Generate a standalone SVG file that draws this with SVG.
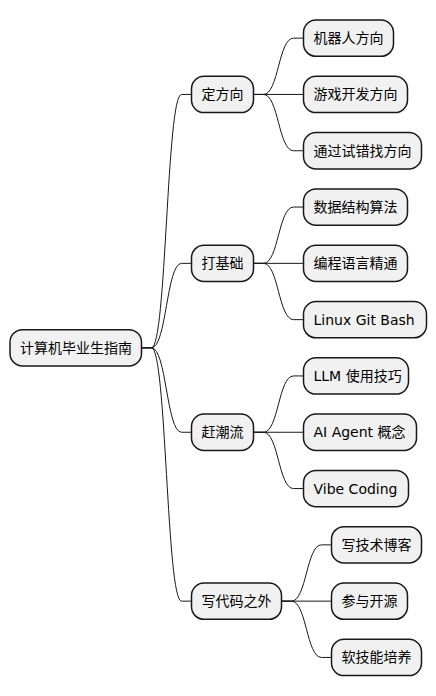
<svg xmlns="http://www.w3.org/2000/svg" width="436" height="696" viewBox="0 0 436 696">
<style>
.n rect{fill:#F1F1F1;stroke:#181818;stroke-width:1.5}
.n text{font-family:"DejaVu Sans","Noto Sans CJK SC",sans-serif;font-size:14px;fill:#000}
.c path{fill:none;stroke:#181818;stroke-width:1}
</style>
<rect width="436" height="696" fill="#FFFFFF"/>
<g class="c" id="connectors">
<path d="M141.5 347.8H151.5C166.5 347.8 166.5 94.45 181.5 94.45H191.5"/>
<path d="M141.5 347.8H151.5C166.5 347.8 166.5 263.35 181.5 263.35H191.5"/>
<path d="M141.5 347.8H151.5C166.5 347.8 166.5 432.25 181.5 432.25H191.5"/>
<path d="M141.5 347.8H151.5C166.5 347.8 166.5 601.15 181.5 601.15H191.5"/>
<path d="M253.5 94.45H263.5C278.5 94.45 278.5 38.15 293.5 38.15H303.5"/>
<path d="M253.5 94.45H303.5"/>
<path d="M253.5 94.45H263.5C278.5 94.45 278.5 150.75 293.5 150.75H303.5"/>
<path d="M253.5 263.35H263.5C278.5 263.35 278.5 207.05 293.5 207.05H303.5"/>
<path d="M253.5 263.35H303.5"/>
<path d="M253.5 263.35H263.5C278.5 263.35 278.5 319.65 293.5 319.65H303.5"/>
<path d="M253.5 432.25H263.5C278.5 432.25 278.5 375.95 293.5 375.95H303.5"/>
<path d="M253.5 432.25H303.5"/>
<path d="M253.5 432.25H263.5C278.5 432.25 278.5 488.55 293.5 488.55H303.5"/>
<path d="M281.5 601.15H291.5C306.5 601.15 306.5 544.85 321.5 544.85H331.5"/>
<path d="M281.5 601.15H331.5"/>
<path d="M281.5 601.15H291.5C306.5 601.15 306.5 657.45 321.5 657.45H331.5"/>
</g>
<g class="n" id="root"><rect x="10" y="329.65" width="131.5" height="36.3" rx="12.5"/><text x="20" y="352.8">计算机毕业生指南</text></g>
<g class="n" id="n1"><rect x="191.5" y="76.3" width="62" height="36.3" rx="12.5"/><text x="201.5" y="99.45">定方向</text></g>
<g class="n" id="n2"><rect x="191.5" y="245.2" width="62" height="36.3" rx="12.5"/><text x="201.5" y="268.35">打基础</text></g>
<g class="n" id="n3"><rect x="191.5" y="414.1" width="62" height="36.3" rx="12.5"/><text x="201.5" y="437.25">赶潮流</text></g>
<g class="n" id="n4"><rect x="191.5" y="583" width="90" height="36.3" rx="12.5"/><text x="201.5" y="606.15">写代码之外</text></g>
<g class="n" id="n1a"><rect x="303.5" y="20" width="90" height="36.3" rx="12.5"/><text x="313.5" y="43.15">机器人方向</text></g>
<g class="n" id="n1b"><rect x="303.5" y="76.3" width="104" height="36.3" rx="12.5"/><text x="313.5" y="99.45">游戏开发方向</text></g>
<g class="n" id="n1c"><rect x="303.5" y="132.6" width="118" height="36.3" rx="12.5"/><text x="313.5" y="155.75">通过试错找方向</text></g>
<g class="n" id="n2a"><rect x="303.5" y="188.9" width="104" height="36.3" rx="12.5"/><text x="313.5" y="212.05">数据结构算法</text></g>
<g class="n" id="n2b"><rect x="303.5" y="245.2" width="104" height="36.3" rx="12.5"/><text x="313.5" y="268.35">编程语言精通</text></g>
<g class="n" id="n2c"><rect x="303.5" y="301.5" width="123" height="36.3" rx="12.5"/><text x="313.5" y="324.65">Linux Git Bash</text></g>
<g class="n" id="n3a"><rect x="303.5" y="357.8" width="105" height="36.3" rx="12.5"/><text x="313.5" y="380.95">LLM 使用技巧</text></g>
<g class="n" id="n3b"><rect x="303.5" y="414.1" width="113" height="36.3" rx="12.5"/><text x="313.5" y="437.25">AI Agent 概念</text></g>
<g class="n" id="n3c"><rect x="303.5" y="470.4" width="105" height="36.3" rx="12.5"/><text x="313.5" y="493.55">Vibe Coding</text></g>
<g class="n" id="n4a"><rect x="331.5" y="526.7" width="90" height="36.3" rx="12.5"/><text x="341.5" y="549.85">写技术博客</text></g>
<g class="n" id="n4b"><rect x="331.5" y="583" width="76" height="36.3" rx="12.5"/><text x="341.5" y="606.15">参与开源</text></g>
<g class="n" id="n4c"><rect x="331.5" y="639.3" width="90" height="36.3" rx="12.5"/><text x="341.5" y="662.45">软技能培养</text></g>
</svg>
